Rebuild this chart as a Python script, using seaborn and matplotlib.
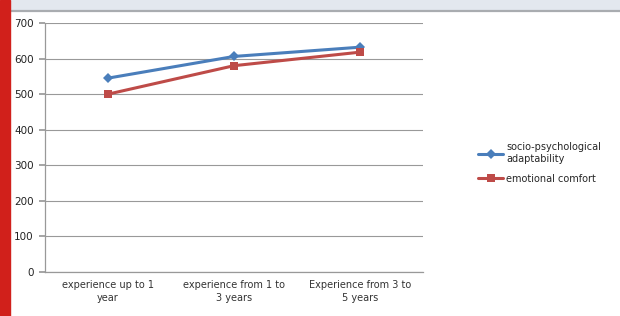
import matplotlib
matplotlib.use("Agg")
import matplotlib.pyplot as plt
import matplotlib.patches as mpatches
import matplotlib.lines as mlines
import seaborn as sns
import pandas as pd

categories = ["experience up to 1\nyear", "experience from 1 to\n3 years", "Experience from 3 to\n5 years"]
series_names = ["socio-psychological\nadaptability", "emotional comfort"]
socio = [545, 606, 632]
emotional = [500, 580, 618]
yticks = [0, 100, 200, 300, 400, 500, 600, 700]

sns.set_theme(style="white")
plt.rcParams['font.family'] = ['DejaVu Sans']

rows = []
for i, c in enumerate(categories):
    rows.append({"x": i, "value": socio[i], "series": series_names[0]})
    rows.append({"x": i, "value": emotional[i], "series": series_names[1]})
df = pd.DataFrame(rows)

blue = "#4a7ebb"
red = "#be4b48"

fig = plt.figure(figsize=(6.2, 3.16), dpi=100)
fig.patch.set_facecolor("white")

# decorations: red side bar, top strip
fig.add_artist(mpatches.Rectangle((0, 0), 10/620, 1, transform=fig.transFigure, color="#d1201b", zorder=5))
fig.add_artist(mpatches.Rectangle((0, 1-10/316), 1, 10/316, transform=fig.transFigure, color="#e3e8ef", zorder=4))
fig.add_artist(mlines.Line2D([0, 1], [1-11/316, 1-11/316], transform=fig.transFigure, color="#a9acb0", lw=1.6, zorder=4))

ax = fig.add_axes([45/620, 1-272/316, 378/620, (272-23)/316])
sns.lineplot(data=df, x="x", y="value", hue="series", style="series",
             markers={series_names[0]: "D", series_names[1]: "s"}, dashes=False,
             palette={series_names[0]: blue, series_names[1]: red},
             linewidth=2.2, markersize=6, markeredgewidth=0, ax=ax, legend=False)
for line in ax.lines[:1]:
    line.set_markersize(5)

ax.set_xlim(-0.5, 2.5)
ax.set_ylim(0, 700)
ax.set_yticks(yticks)
ax.set_yticklabels([str(v) for v in yticks], fontsize=7.5, color="#222222")
ax.set_xticks(range(len(categories)))
ax.set_xticklabels(categories, fontsize=7, color="#333333", linespacing=1.3)
ax.set_xticks([-0.5, 0.5, 1.5, 2.5], minor=True)
ax.tick_params(axis="x", which="major", length=0, pad=6)
ax.tick_params(axis="x", which="minor", length=4, color="#999999", direction="out")
ax.tick_params(axis="y", length=4, color="#999999", direction="out", pad=4, left=True)
ax.grid(axis="y", color="#999999", lw=0.8)
ax.set_axisbelow(True)
for s in ["top", "right"]:
    ax.spines[s].set_visible(False)
for s in ["left", "bottom"]:
    ax.spines[s].set_color("#999999")
    ax.spines[s].set_linewidth(0.9)
ax.set_xlabel("")
ax.set_ylabel("")

handles = [
    mlines.Line2D([], [], color=blue, marker="D", markersize=5, lw=2.2, markeredgewidth=0),
    mlines.Line2D([], [], color=red, marker="s", markersize=6, lw=2.2, markeredgewidth=0),
]
fig.legend(handles, series_names, loc="center left", bbox_to_anchor=(474/620, 1-163/316),
           frameon=False, fontsize=7, handlelength=2.6, handletextpad=0.3,
           labelspacing=1.0, borderaxespad=0)

fig.savefig("out.png", dpi=100)
